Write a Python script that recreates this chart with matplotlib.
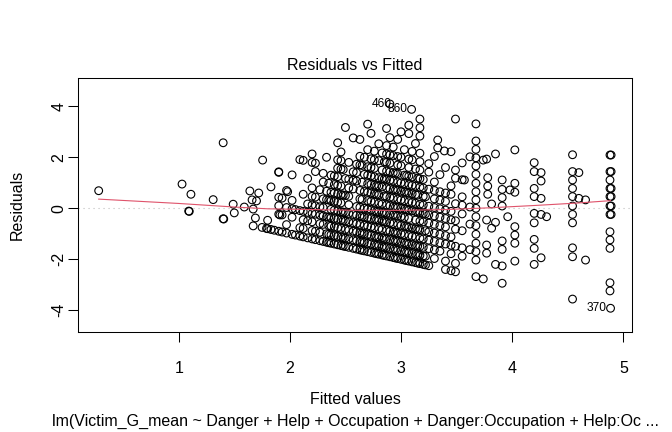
import matplotlib
matplotlib.use("Agg")
import matplotlib.pyplot as plt

plt.rcParams['font.family'] = ['Liberation Sans', 'DejaVu Sans']

# ---- data ----
# sparse points on the left-hand side (fitted, residual)
sparse_fit = [0.28, 1.03, 1.11, 1.09, 1.095, 1.40, 1.31, 1.40, 1.405, 1.49, 1.50, 1.59,
              1.64, 1.66, 1.67, 1.69, 1.67, 1.70, 1.72, 1.755, 1.75, 1.79, 1.90, 1.91, 1.98]
sparse_res = [0.69, 0.95, 0.55, -0.11, -0.12, 2.57, 0.34, -0.41, -0.42, 0.16, -0.18, 0.05,
              0.68, 0.33, -0.03, -0.38, -0.69, 0.29, 0.60, 1.89, -0.75, -0.79, 1.41, -0.26, 0.65]

# dense region, grouped by fitted value (column)
col_fit = [1.80, 1.83, 1.86, 1.90, 1.93, 1.97, 2.02, 2.05, 2.09, 2.12, 2.16, 2.20, 2.23,
           2.27, 2.30, 2.33, 2.35, 2.37, 2.40, 2.43, 2.46, 2.48, 2.50, 2.53, 2.57, 2.60,
           2.63, 2.65, 2.67, 2.70, 2.73, 2.76, 2.78, 2.80, 2.83, 2.85, 2.87, 2.90, 2.93,
           2.95, 2.97, 3.00, 3.03, 3.05, 3.07, 3.10, 3.13, 3.15, 3.17, 3.20, 3.22, 3.25,
           3.30, 3.33, 3.35, 3.39, 3.40, 3.45, 3.49, 3.55, 3.57,
           3.62, 3.674, 3.74, 3.77, 3.78, 3.815, 3.85, 3.91, 3.96, 3.98, 4.024, 4.198,
           4.26, 4.31, 4.543, 4.60, 4.66, 4.88, 4.89]
col_res = [
    [-0.80, -0.47],
    [-0.83, 0.84],
    [-0.86],
    [-0.90, -0.23, 0.10, 0.43, 1.43],
    [-0.93, -0.26, 0.40],
    [-0.97, -0.64, 0.03, 0.70],
    [-1.02, -0.35, -0.02, 0.31, 1.31],
    [-1.05, -0.05],
    [-1.09, -0.76, -0.09, 1.91],
    [-1.12, -0.79, -0.45, -0.12, 0.55, 1.88],
    [-1.16, -0.49, -0.16, 0.17, 1.17],
    [-1.20, -0.87, -0.53, -0.20, 0.13, 0.47, 0.80, 1.80, 2.13],
    [-1.23, -0.90, -0.23, 0.10, 0.44, 1.44, 1.77],
    [-1.27, -0.94, -0.60, -0.27, 0.06, 0.73],
    [-1.30, -0.63, -0.30, 0.03, 0.37, 1.03, 1.37],
    [-1.33, -1.00, -0.33, 0.34, 0.67, 2.00],
    [-1.35, -1.02, -0.68, -0.35, 0.32, 0.98],
    [-1.37, -1.04, -0.70, -0.37, -0.04, 0.30, 0.63, 1.30],
    [-1.40, -1.07, -0.73, -0.40, -0.07, 0.27, 0.60, 0.93, 1.27],
    [-1.43, -1.10, -0.76, -0.43, -0.10, 0.24, 0.57, 0.90, 1.24, 1.57, 1.90, 2.57],
    [-1.46, -1.13, -0.79, -0.46, -0.13, 0.21, 0.54, 0.87, 1.54, 1.87, 2.21],
    [-1.48, -1.15, -0.48, -0.15, 0.52, 1.52],
    [-1.50, -1.17, -0.83, -0.50, -0.17, 0.50, 1.17, 3.17],
    [-1.53, -1.20, -0.86, -0.53, -0.20, 0.14, 0.47, 0.80, 1.14, 1.80],
    [-1.57, -1.24, -0.90, -0.57, -0.24, 0.76, 1.10, 1.43, 2.76],
    [-1.60, -1.27, -0.93, -0.60, -0.27, 0.07, 1.07, 1.40, 1.73],
    [-1.63, -1.30, -0.96, -0.63, -0.30, 0.04, 0.37, 0.70, 1.70, 2.04, 2.70],
    [-1.65, -1.32, -0.98, -0.32, 0.35, 1.02, 1.68],
    [-1.67, -1.34, -1.00, -0.67, -0.34, 0.00, 0.66, 1.33, 2.00],
    [-1.70, -1.37, -1.03, -0.70, -0.37, -0.03, 0.30, 0.63, 0.97, 1.30, 1.63, 2.30, 3.30],
    [-1.73, -1.40, -1.06, -0.73, -0.40, -0.06, 0.27, 0.60, 0.94, 1.27, 1.60, 1.94, 2.94],
    [-1.76, -1.43, -1.09, -0.76, -0.43, -0.09, 0.24, 0.57, 0.91, 1.24, 1.57, 1.91, 2.24],
    [-1.78, -1.45, -1.12, -0.45, -0.12, 0.55, 0.88],
    [-1.80, -1.47, -1.13, -0.80, -0.47, -0.13, 0.20, 0.53, 0.87, 1.20, 1.87, 2.53],
    [-1.83, -1.50, -1.16, -0.83, -0.50, -0.16, 0.17, 0.84, 1.17, 1.50, 2.17],
    [-1.85, -1.52, -1.18, -0.52, -0.18, 0.48, 1.15, 1.82],
    [-1.87, -1.54, -1.20, -0.87, -0.54, -0.20, 0.13, 0.46, 0.80, 1.13, 1.46, 1.80, 2.13, 2.46, 3.13],
    [-1.90, -1.57, -1.23, -0.90, -0.57, -0.23, 0.10, 0.43, 0.77, 1.10, 1.43, 1.77, 2.10, 2.77],
    [-1.93, -1.60, -1.26, -0.93, -0.60, -0.26, 0.07, 0.40, 0.74, 1.07, 1.40, 2.07, 2.40],
    [-1.95, -1.62, -1.28, -0.95, -0.28, 0.05, 0.72, 1.38],
    [-1.97, -1.64, -1.30, -0.97, -0.64, -0.30, 0.03, 0.36, 0.70, 1.03, 1.36, 1.70, 2.03, 2.70],
    [-2.00, -1.67, -1.33, -1.00, -0.67, -0.33, 0.00, 0.33, 0.67, 1.00, 1.67, 2.00, 3.00],
    [-2.03, -1.70, -1.36, -1.03, -0.70, -0.36, -0.03, 0.30, 0.64, 0.97, 1.30, 2.30],
    [-2.05, -1.72, -1.38, -0.72, -0.05, 0.62, 1.28],
    [-2.07, -1.74, -1.40, -1.07, -0.74, -0.40, -0.07, 0.26, 0.60, 0.93, 1.26, 1.60, 1.93, 2.93, 3.26],
    [-2.10, -1.77, -1.43, -1.10, -0.77, -0.10, 0.23, 0.57, 0.90, 1.23, 1.90, 2.23],
    [-2.13, -1.80, -1.46, -1.13, -0.80, -0.46, -0.13, 0.20, 0.54, 0.87, 1.54, 2.54],
    [-2.15, -1.82, -1.48, -0.82, -0.15, 0.52, 1.18],
    [-2.17, -1.84, -1.50, -1.17, -0.84, -0.50, -0.17, 0.16, 0.83, 1.16, 1.50, 1.83, 2.16, 2.83, 3.16, 3.50],
    [-2.20, -1.87, -1.53, -1.20, -0.53, -0.20, 0.13, 0.47, 0.80, 1.13],
    [-2.22, -1.88, -0.88, -0.22, 0.45],
    [-2.25, -1.58, -1.25, -0.92, -0.58, -0.25, 0.08, 0.75, 1.42, 1.75],
    [-1.97, -1.63, -1.30, -0.97, -0.63, -0.30, 0.03, 0.37, 0.70, 1.03, 2.03],
    [2.68, 2.37],
    [-1.68, -1.35, -1.02, -0.68, -0.35, -0.02, 0.32, 0.65, 1.32],
    [2.25],
    [-2.40, -2.07, -1.40, -1.07, -0.73, -0.40, -0.07, 0.27, 0.60, 1.60],
    [-2.45, -1.78, -1.45, -1.12, -0.45, -0.12, 0.55, 0.88, 2.22],
    [-2.49, -2.16, -1.49, -0.82, -0.49, 0.18, 1.18, 1.50, 3.50],
    [-1.88, -1.55, -0.88, -0.22, 0.12, 0.45, 1.12, 1.78],
    [1.11],
    [-1.62, -0.62, 0.05, 2.02],
    [3.31, 2.64, 2.31, 1.98, 1.66, 1.33, 0.98, 0.65, 0.33, 0.00, -0.33, -0.68, -1.02, -1.37, -1.70, -2.03, -2.68],
    [1.89, -2.77],
    [1.93, -0.46, -1.44, -1.76],
    [1.20, 0.87, 0.55],
    [0.17, -0.78],
    [2.13, -0.55, -2.20],
    [1.11, 0.74, 0.42, 0.09, -1.28, -1.61, -2.26, -2.94],
    [-0.33],
    [0.72],
    [2.29, 0.98, 0.63, -0.72, -1.05, -1.37, -2.07],
    [1.79, 1.44, 0.78, 0.46, -0.20, -0.57, -1.22, -1.57, -2.20],
    [1.40, 1.07, 0.39, -0.24, -1.94],
    [-0.33],
    [2.10, 1.44, 1.11, 0.78, 0.46, 0.09, -0.24, -0.57, -1.55, -1.90, -3.56],
    [1.40, 0.39],
    [0.33, -2.03],
    [2.09, 1.44, 1.11, 0.78, 0.46, 0.09, -0.24, -0.92, -1.24, -1.57, -2.92, -3.24],
    [2.09, 1.44, 0.78, 0.46, 0.09, -0.24],
]

# labelled observations
label_ids = ['460', '860', '370']
label_fit = [2.90, 3.095, 4.885]
label_res = [4.09, 3.88, -3.92]

# smoother (red line)
lowess_fit = [0.28, 1.0, 1.5, 1.8, 2.2, 2.6, 3.0, 3.4, 3.8, 4.2, 4.6, 4.885]
lowess_res = [0.36, 0.19, 0.05, -0.02, -0.05, -0.08, -0.08, -0.05, 0.02, 0.11, 0.21, 0.30]

x_ticks = [1, 2, 3, 4, 5]
y_ticks = [-4, -2, 0, 2, 4]

title = "Residuals vs Fitted"
xlabel = "Fitted values"
ylabel = "Residuals"
subcaption = "lm(Victim_G_mean ~ Danger + Help + Occupation + Danger:Occupation + Help:Oc ..."

# ---- assemble ----
fitted = list(sparse_fit)
resid = list(sparse_res)
for f, rs in zip(col_fit, col_res):
    for r in rs:
        fitted.append(f)
        resid.append(r)
fitted += label_fit
resid += label_res

W, H = 672, 432
fig = plt.figure(figsize=(W / 100, H / 100), dpi=100)
L, R, T, B = 78, 632, 78, 332.3
ax = fig.add_axes([L / W, 1 - B / H, (R - L) / W, (B - T) / H])

ax.axhline(0, color='#BEBEBE', lw=0.8, linestyle=(0, (1, 3.5)), zorder=1)
ax.scatter(fitted, resid, s=31, facecolors='none', edgecolors='black',
           linewidths=0.8, zorder=2)
ax.plot(lowess_fit, lowess_res, color='#DF536B', lw=0.8, zorder=3)

offsets = [2, -4, -4]
for lab, fx, ry, off in zip(label_ids, label_fit, label_res, offsets):
    ax.annotate(lab, (fx, ry), xytext=(off, 0), textcoords='offset pixels',
                ha='right', va='center', fontsize=8.6, zorder=4)

ax.set_xlim(0.094, 5.078)
ax.set_ylim(-4.863, 5.11)
ax.set_xticks(x_ticks)
ax.set_yticks(y_ticks)
ax.set_xticklabels([str(v) for v in x_ticks])
ax.set_yticklabels([str(v) for v in y_ticks])
ax.tick_params(direction='out', length=6.9, width=0.75, labelsize=11.5, colors='black')
ax.tick_params(axis='x', pad=14)
ax.tick_params(axis='y', pad=1.5)
for lab in ax.get_yticklabels():
    lab.set_rotation(90)
    lab.set_va('center')
for s in ax.spines.values():
    s.set_linewidth(0.75)
    s.set_color('black')

ax.set_title(title, fontsize=11.5, pad=6)
ax.set_xlabel(xlabel, fontsize=11.5)
ax.set_ylabel(ylabel, fontsize=11.5)
ax.xaxis.set_label_coords(0.5, (B - 400) / (B - T), transform=ax.transAxes)
ax.xaxis.label.set_va('center')
ax.yaxis.set_label_coords((17 - L) / (R - L), 0.5, transform=ax.transAxes)
ax.yaxis.label.set_va('center')
fig.text(((L + R) / 2) / W, 1 - 421 / H, subcaption, ha='center', va='center', fontsize=11.5)

fig.savefig('out.png', dpi=100)
